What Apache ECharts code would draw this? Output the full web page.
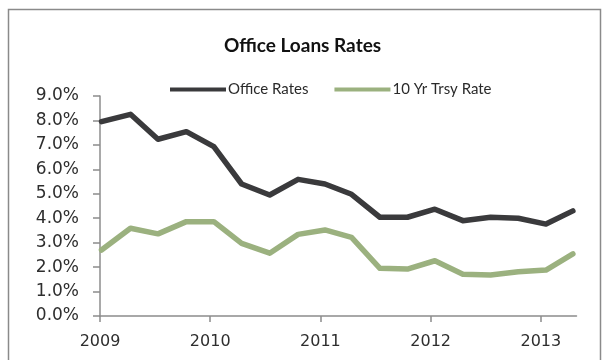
<!DOCTYPE html>
<html>
<head>
<meta charset="utf-8">
<script src="https://cdn.jsdelivr.net/npm/echarts@6/dist/echarts.min.js"></script>
<style>
  html, body { margin: 0; padding: 0; background: #ffffff; }
  #chart { width: 605px; height: 360px; }
</style>
</head>
<body>
<div id="chart"></div>
<script>
// ---- data ----
const titleText = 'Office Loans Rates';
const seriesNames = ['Office Rates', '10 Yr Trsy Rate'];
const dates = [
  '2009-01-06', '2009-04-12', '2009-07-12', '2009-10-14',
  '2010-01-13', '2010-04-15', '2010-07-17', '2010-10-19',
  '2011-01-16', '2011-04-14', '2011-07-17', '2011-10-16',
  '2012-01-15', '2012-04-17', '2012-07-18', '2012-10-18',
  '2013-01-18', '2013-04-17'
];
const officeRates = [7.95, 8.25, 7.23, 7.54, 6.93, 5.40, 4.95, 5.59, 5.40, 4.98, 4.04, 4.04, 4.37, 3.90, 4.04, 4.00, 3.76, 4.30];
const treasuryRates = [2.70, 3.59, 3.36, 3.86, 3.86, 2.97, 2.57, 3.34, 3.52, 3.22, 1.95, 1.92, 2.26, 1.71, 1.68, 1.81, 1.88, 2.54];
const yearTicks = [2009, 2010, 2011, 2012, 2013];
const xStart = '2009-01-01';
const xEnd = '2013-04-29';
const yMin = 0, yMax = 9, yStep = 1;

// ---- build chart ----
// convert a date string to a fractional year so a value axis can place it
function toYear(s) {
  const [y, m, d] = s.split('-').map(Number);
  const t = Date.UTC(y, m - 1, d);
  const a = Date.UTC(y, 0, 1), b = Date.UTC(y + 1, 0, 1);
  return y + (t - a) / (b - a);
}
const pair = (arr) => arr.map((v, i) => [toYear(dates[i]), v]);

const chart = echarts.init(document.getElementById('chart'), null, { renderer: 'canvas' });
const axisGrey = '#8c8c8c';
const labelColor = '#2e2e2e';

chart.setOption({
  animation: false,
  backgroundColor: '#ffffff',
  graphic: [{
    type: 'rect',
    shape: { x: 8.5, y: 9.5, width: 592, height: 400 },
    style: { fill: 'none', stroke: '#8a8a8a', lineWidth: 1.5 },
    silent: true
  }],
  title: {
    text: titleText,
    left: 'center',
    top: 31,
    textStyle: { fontFamily: 'Lato', fontWeight: 'bold', fontSize: 19, color: '#111111' }
  },
  legend: {
    left: 165,
    top: 77,
    itemWidth: 56,
    itemHeight: 4,
    itemGap: 26,
    icon: 'rect',
    data: seriesNames,
    textStyle: { fontFamily: 'Lato', fontSize: 15, color: '#2a2a2a', padding: [0, 0, 0, -3] }
  },
  grid: { left: 100, right: 28.5, top: 96, bottom: 44, containLabel: false },
  xAxis: {
    type: 'value',
    min: toYear(xStart),
    max: toYear(xEnd),
    interval: 1,
    axisLine: { show: true, lineStyle: { color: axisGrey, width: 1.5 } },
    axisTick: { show: true, length: 6, lineStyle: { color: axisGrey, width: 1.5 }, customValues: yearTicks },
    axisLabel: {
      customValues: yearTicks,
      margin: 18,
      fontFamily: 'DejaVu Sans',
      fontSize: 16,
      color: labelColor,
      formatter: v => String(Math.round(v))
    },
    splitLine: { show: false }
  },
  yAxis: {
    type: 'value',
    min: yMin,
    max: yMax,
    interval: yStep,
    axisLine: { show: true, lineStyle: { color: axisGrey, width: 1.5 } },
    axisTick: { show: true, length: 7, lineStyle: { color: axisGrey, width: 1.5 } },
    axisLabel: {
      margin: 21,
      fontFamily: 'DejaVu Sans',
      fontSize: 17,
      color: labelColor,
      formatter: v => v.toFixed(1) + '%'
    },
    splitLine: { show: false }
  },
  series: [
    {
      name: seriesNames[0],
      type: 'line',
      data: pair(officeRates),
      showSymbol: false,
      symbol: 'none',
      lineStyle: { color: '#3a3a3c', width: 5.5, cap: 'round', join: 'round' },
      itemStyle: { color: '#3a3a3c' }
    },
    {
      name: seriesNames[1],
      type: 'line',
      data: pair(treasuryRates),
      showSymbol: false,
      symbol: 'none',
      lineStyle: { color: '#9bb17f', width: 5.5, cap: 'round', join: 'round' },
      itemStyle: { color: '#9bb17f' }
    }
  ]
});
</script>
</body>
</html>
